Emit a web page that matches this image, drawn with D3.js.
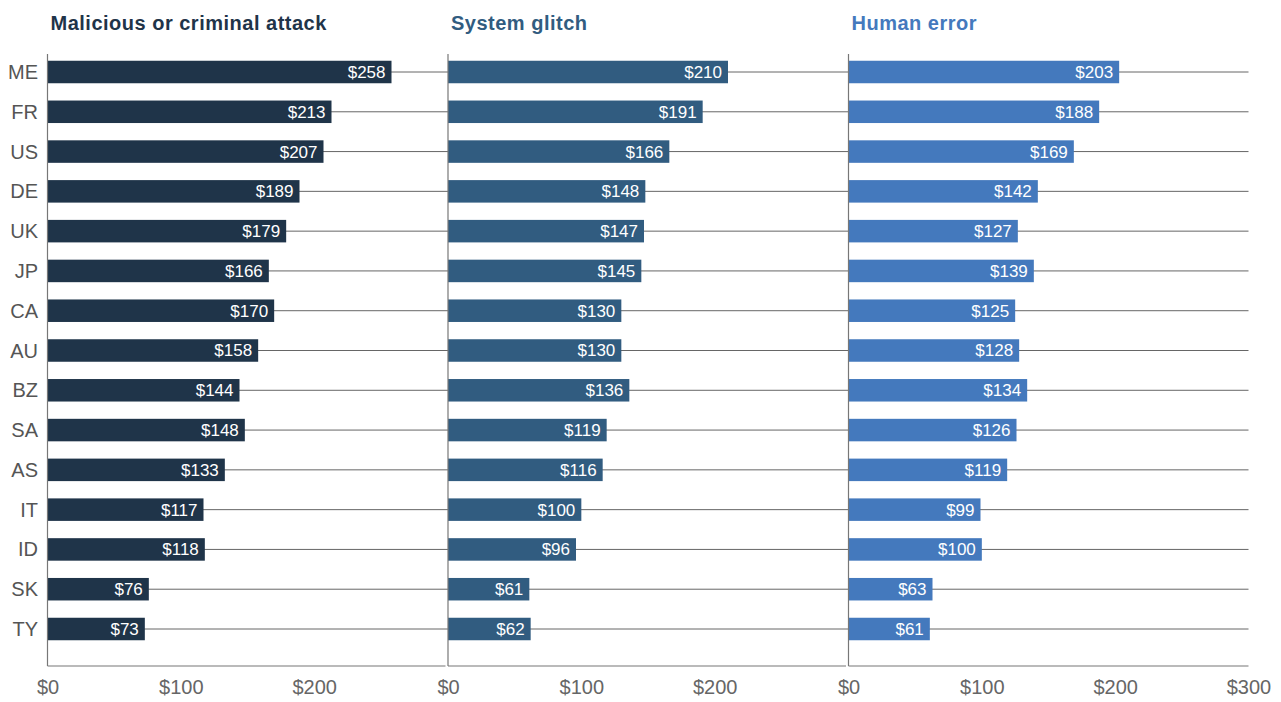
<!DOCTYPE html>
<html>
<head>
<meta charset="utf-8">
<script src="https://cdn.jsdelivr.net/npm/d3@7"></script>
<style>
  body { margin: 0; background: #fff; }
  svg text { font-family: "Helvetica Neue", Helvetica, Arial, "Liberation Sans", sans-serif; }
</style>
</head>
<body>
<svg width="1281" height="702"></svg>
<script>
var countries = ["ME", "FR", "US", "DE", "UK", "JP", "CA", "AU", "BZ", "SA", "AS", "IT", "ID", "SK", "TY"]
var titles = ["Malicious or criminal attack", "System glitch", "Human error"]
var colors = ["#1f3449", "#315c80", "#4479bd"]

var malicious = [258, 213, 207, 189, 179, 166, 170, 158, 144, 148, 133, 117, 118, 76, 73]
var glitch = [210, 191, 166, 148, 147, 145, 130, 130, 136, 119, 116, 100, 96, 61, 62]
var human = [203, 188, 169, 142, 127, 139, 125, 128, 134, 126, 119, 99, 100, 63, 61]

var tickValues = [[0, 100, 200], [0, 100, 200], [0, 100, 200, 300]]

var series = [malicious, glitch, human]

var panelW = 400,
    axisTop = 54,
    axisBottom = 666,
    barH = 22.5

var svg = d3.select("svg")

var xPanel = d3.scaleLinear().domain([0, 2]).range([47.5, 848.5])

var y = d3.scalePoint()
    .domain(countries)
    .range([72, 629])

// country labels
svg.selectAll(".country")
    .data(countries)
    .enter().append("text")
    .attr("class", "country")
    .attr("x", 38)
    .attr("y", function(d) { return y(d) })
    .attr("dy", "0.35em")
    .attr("text-anchor", "end")
    .style("font-size", "20px")
    .style("fill", "#555")
    .text(function(d) { return d })

series.forEach(function(vals, i) {
    var x = d3.scaleLinear().domain([0, 300]).range([0, panelW])
    var g = svg.append("g").attr("transform", "translate(" + xPanel(i) + ",0)")

    g.append("text")
        .attr("x", 3)
        .attr("y", 30)
        .style("font-size", "20px")
        .style("letter-spacing", "0.5px")
        .style("font-weight", "bold")
        .style("fill", colors[i])
        .text(titles[i])

    // grid lines behind bars
    g.selectAll(".grid")
        .data(countries)
        .enter().append("line")
        .attr("x1", 0)
        .attr("x2", i == 2 ? panelW : panelW + 2)
        .attr("y1", function(d) { return y(d) })
        .attr("y2", function(d) { return y(d) })
        .style("stroke", "#666")
        .style("stroke-width", 1)

    var rows = countries.map(function(c, j) { return [c, vals[j]] })

    g.selectAll(".bar")
        .data(rows)
        .enter().append("rect")
        .attr("x", 0)
        .attr("y", function(d) { return y(d[0]) - barH / 2 })
        .attr("width", function(d) { return x(d[1]) })
        .attr("height", barH)
        .style("fill", colors[i])

    g.selectAll(".val")
        .data(rows)
        .enter().append("text")
        .attr("x", function(d) { return x(d[1]) - 6 })
        .attr("y", function(d) { return y(d[0]) })
        .attr("dy", "0.35em")
        .attr("text-anchor", "end")
        .style("font-size", "17px")
        .style("fill", "#fff")
        .text(function(d) { return "$" + d[1] })

    // left axis line
    g.append("line")
        .attr("x1", 0).attr("x2", 0)
        .attr("y1", axisTop).attr("y2", axisBottom)
        .style("stroke", "#777")
        .style("stroke-width", 1.2)

    // bottom axis
    var ax = g.append("g")
        .attr("transform", "translate(0," + axisBottom + ")")
        .call(d3.axisBottom(x).tickValues(tickValues[i]).tickSize(0).tickPadding(14)
            .tickFormat(function(d) { return "$" + d }))
    ax.select(".domain")
        .attr("d", "M0,0H" + (i == 2 ? panelW : panelW - 2))
        .style("stroke", "#777")
        .style("stroke-width", 1.2)
    ax.selectAll("text")
        .style("font-size", "20px")
        .style("fill", "#666")
        .style("font-family", "\"Helvetica Neue\", Helvetica, Arial, \"Liberation Sans\", sans-serif")
})
</script>
</body>
</html>
